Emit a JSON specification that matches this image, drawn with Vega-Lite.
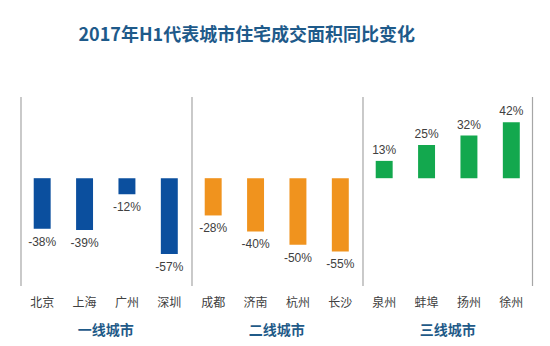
{
  "$schema": "https://vega.github.io/schema/vega-lite/v6.json",
  "padding": {"left": 20, "top": 27, "right": 5, "bottom": 5},
  "background": "white",
  "title": {
    "text": "2017年H1代表城市住宅成交面积同比变化",
    "anchor": "start",
    "dx": 58,
    "fontSize": 18,
    "font": "Noto Sans CJK SC",
    "fontWeight": "bold",
    "color": "#1e5a8a",
    "offset": 51
  },
  "data": {
    "values": [
      {"city": "北京", "group": "一线城市", "value": -38, "label": "-38%"},
      {"city": "上海", "group": "一线城市", "value": -39, "label": "-39%"},
      {"city": "广州", "group": "一线城市", "value": -12, "label": "-12%"},
      {"city": "深圳", "group": "一线城市", "value": -57, "label": "-57%"},
      {"city": "成都", "group": "二线城市", "value": -28, "label": "-28%"},
      {"city": "济南", "group": "二线城市", "value": -40, "label": "-40%"},
      {"city": "杭州", "group": "二线城市", "value": -50, "label": "-50%"},
      {"city": "长沙", "group": "二线城市", "value": -55, "label": "-55%"},
      {"city": "泉州", "group": "三线城市", "value": 13, "label": "13%"},
      {"city": "蚌埠", "group": "三线城市", "value": 25, "label": "25%"},
      {"city": "扬州", "group": "三线城市", "value": 32, "label": "32%"},
      {"city": "徐州", "group": "三线城市", "value": 42, "label": "42%"}
    ]
  },
  "facet": {
    "column": {
      "field": "group",
      "type": "nominal",
      "sort": ["一线城市", "二线城市", "三线城市"],
      "header": {
        "title": null,
        "labelOrient": "bottom",
        "labelFont": "Noto Sans CJK SC",
        "labelFontSize": 14,
        "labelFontWeight": "bold",
        "labelColor": "#1f5a88",
        "labelPadding": 16
      }
    }
  },
  "spacing": 0,
  "resolve": {"scale": {"x": "independent"}},
  "spec": {
    "width": 169.5,
    "height": 189,
    "layer": [
      {
        "mark": {"type": "bar", "width": {"band": 0.4}},
        "encoding": {
          "x": {
            "field": "city",
            "type": "nominal",
            "sort": null,
            "scale": {"paddingInner": 0, "paddingOuter": 0},
            "axis": {
              "title": null,
              "domain": false,
              "ticks": false,
              "labelAngle": 0,
              "labelPadding": 11,
              "labelFont": "Noto Sans CJK SC",
              "labelFontSize": 12,
              "labelColor": "#404040"
            }
          },
          "y": {
            "field": "value",
            "type": "quantitative",
            "scale": {"domain": [-81, 61], "nice": false, "zero": true},
            "axis": null
          },
          "color": {
            "field": "group",
            "type": "nominal",
            "scale": {"domain": ["一线城市", "二线城市", "三线城市"], "range": ["#0b4f9e", "#f0931e", "#13a84e"]},
            "legend": null
          }
        }
      },
      {
        "transform": [{"filter": "datum.value < 0"}],
        "mark": {"type": "text", "baseline": "middle", "dy": 13, "font": "Liberation Sans", "fontSize": 12, "color": "#404040"},
        "encoding": {
          "x": {"field": "city", "type": "nominal", "sort": null},
          "y": {"field": "value", "type": "quantitative"},
          "text": {"field": "label", "type": "nominal"}
        }
      },
      {
        "transform": [{"filter": "datum.value >= 0"}],
        "mark": {"type": "text", "baseline": "middle", "dy": -11, "font": "Liberation Sans", "fontSize": 12, "color": "#404040"},
        "encoding": {
          "x": {"field": "city", "type": "nominal", "sort": null},
          "y": {"field": "value", "type": "quantitative"},
          "text": {"field": "label", "type": "nominal"}
        }
      },
      {
        "transform": [{"filter": {"field": "city", "oneOf": ["北京", "成都", "泉州"]}}],
        "mark": {"type": "rule", "color": "#a6a6a6", "strokeWidth": 1.2},
        "encoding": {
          "x": {"field": "city", "type": "nominal", "sort": null, "bandPosition": 0}
        }
      },
      {
        "transform": [{"filter": {"field": "city", "oneOf": ["徐州"]}}],
        "mark": {"type": "rule", "color": "#a6a6a6", "strokeWidth": 1.2},
        "encoding": {
          "x": {"field": "city", "type": "nominal", "sort": null, "bandPosition": 1}
        }
      }
    ]
  },
  "config": {
    "view": {"stroke": null},
    "font": "Noto Sans CJK SC"
  }
}
